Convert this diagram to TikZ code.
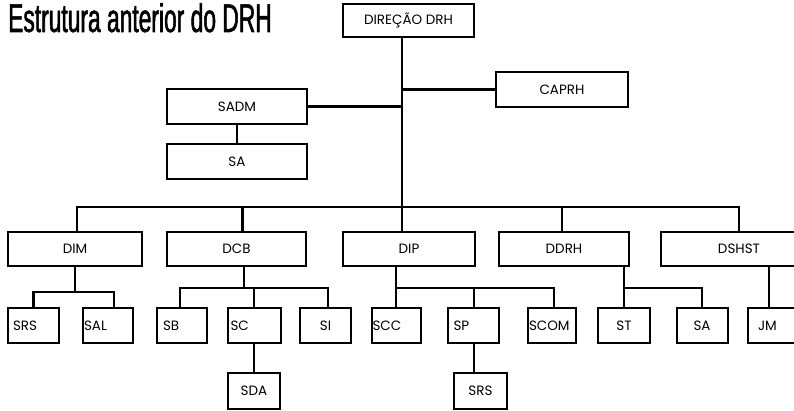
\documentclass[tikz,border=0pt]{standalone}
\usepackage{fontspec}
\setmainfont{Poppins}
\newfontfamily\titlefont[FakeStretch=0.57, FakeBold=1.3]{Liberation Sans}
\usetikzlibrary{positioning}
\tikzset{
  unit/.style  = {rectangle, draw=black, line width=2pt, fill=white,
                  inner sep=0pt, minimum height=35pt, align=center,
                  font=\fontsize{13.5}{15}\selectfont},
  lunit/.style = {unit, align=left, inner xsep=#1},
  link/.style  = {line width=2.2pt, draw=black},
  heading/.style = {font=\titlefont\fontsize{40}{44}\selectfont, inner sep=0pt},
}
\begin{document}
\begin{tikzpicture}[x=1pt, y=-1pt]
\useasboundingbox (0,0) rectangle (794,411);
\clip (0,0) rectangle (794,411);

% ---- Title ----
\node[heading, anchor=base west] (ttl) at (8,32) {Estrutura anterior do DRH};

% ---- Top ----
\node[unit, minimum width=131pt, minimum height=33pt] (dir) at (408.5,20.5) {DIREÇÃO DRH};
\node[unit, minimum width=132pt] (caprh) at (562,89.5) {CAPRH};
\node[unit, minimum width=140pt] (sadm) at (237,106.5) {SADM};
\node[unit, minimum width=140pt] (sa1) at (237,162) {SA};

% ---- Directorates ----
\node[unit, minimum width=134pt, minimum height=34pt] (dim) at (75,249) {DIM};
\node[unit, minimum width=139pt, minimum height=34pt] (dcb) at (236.5,249) {DCB};
\node[unit, minimum width=132pt, minimum height=34pt] (dip) at (409,249) {DIP};
\node[unit, minimum width=130pt, minimum height=34pt] (ddrh) at (564,249) {DDRH};
\node[unit, minimum width=156pt, minimum height=34pt] (dshst) at (739,249) {DSHST};

% ---- Services ----
\node[lunit=5pt, text width=41pt] (srs1) at (33.5,325.5) {SRS};
\node[lunit=1pt, text width=48pt] (sal) at (108,325.5) {SAL};
\node[lunit=6pt, text width=38pt] (sb) at (182,325.5) {SB};
\node[lunit=3pt, text width=47pt] (sc) at (254,325.5) {SC};
\node[unit, minimum width=51pt] (si) at (325.5,325.5) {SI};
\node[lunit=1pt, text width=47pt] (scc) at (396,325.5) {SCC};
\node[lunit=6pt, text width=39pt] (sp) at (473,325.5) {SP};
\node[lunit=1pt, text width=46pt] (scom) at (552,325.5) {SCOM};
\node[unit, minimum width=52pt] (st) at (624,325.5) {ST};
\node[unit, minimum width=51pt] (sa2) at (702,325.5) {SA};
\node[lunit=10pt, text width=32pt] (jm) at (774,325.5) {JM};
\node[unit, minimum width=52pt, minimum height=36pt] (sda) at (254,391) {SDA};
\node[unit, minimum width=53pt, minimum height=36pt] (srs2) at (480.5,391) {SRS};

% ===== Trunk and bus =====
\coordinate (bus) at (402,207);
\draw[link] (dir.south -| bus) -- (dip.north -| bus);
\draw[link] (caprh.west) -- (caprh.west -| bus);
\draw[link] (sadm.east) -- (sadm.east -| bus);
\draw[link] (sadm) -- (sa1);
\draw[link] ([xshift=2]dim.north) |- (bus) -| (dshst.north);
\draw[link] ([xshift=6]dcb.north) -- ([xshift=6]dcb.north |- bus);
\draw[link] ([xshift=-2]ddrh.north) -- ([xshift=-2]ddrh.north |- bus);

% ===== Second level =====
\coordinate (dimbar) at (75,292);
\draw[link] (dim.south) -- (dimbar);
\draw[link] (srs1.north) |- (dimbar) -| ([xshift=6]sal.north);

\coordinate (dcbbar) at (244,288);
\draw[link] (dcb.south -| dcbbar) -- (dcbbar);
\draw[link] ([xshift=-2]sb.north) |- (dcbbar) -| ([xshift=2.5]si.north);
\draw[link] (sc.north) -- (sc.north |- dcbbar);
\draw[link] (sc) -- (sda);

\coordinate (dipbar) at (396,288);
\draw[link] (dip.south -| scc.north) -- (scc.north);
\draw[link] (dipbar) -| ([xshift=2]scom.north);
\draw[link] ([xshift=1]sp.north) -- ([xshift=1]sp.north |- dipbar);
\draw[link] ([xshift=1]sp.south) -- ([xshift=1]sp.south |- srs2.north);

\coordinate (ddrhbar) at (624,288);
\draw[link] (ddrh.south -| st.north) -- (st.north);
\draw[link] (ddrhbar) -| (sa2.north);

\draw[link] ([xshift=-5]jm.north) -- ([xshift=-5]jm.north |- dshst.south);

\end{tikzpicture}
\end{document}
